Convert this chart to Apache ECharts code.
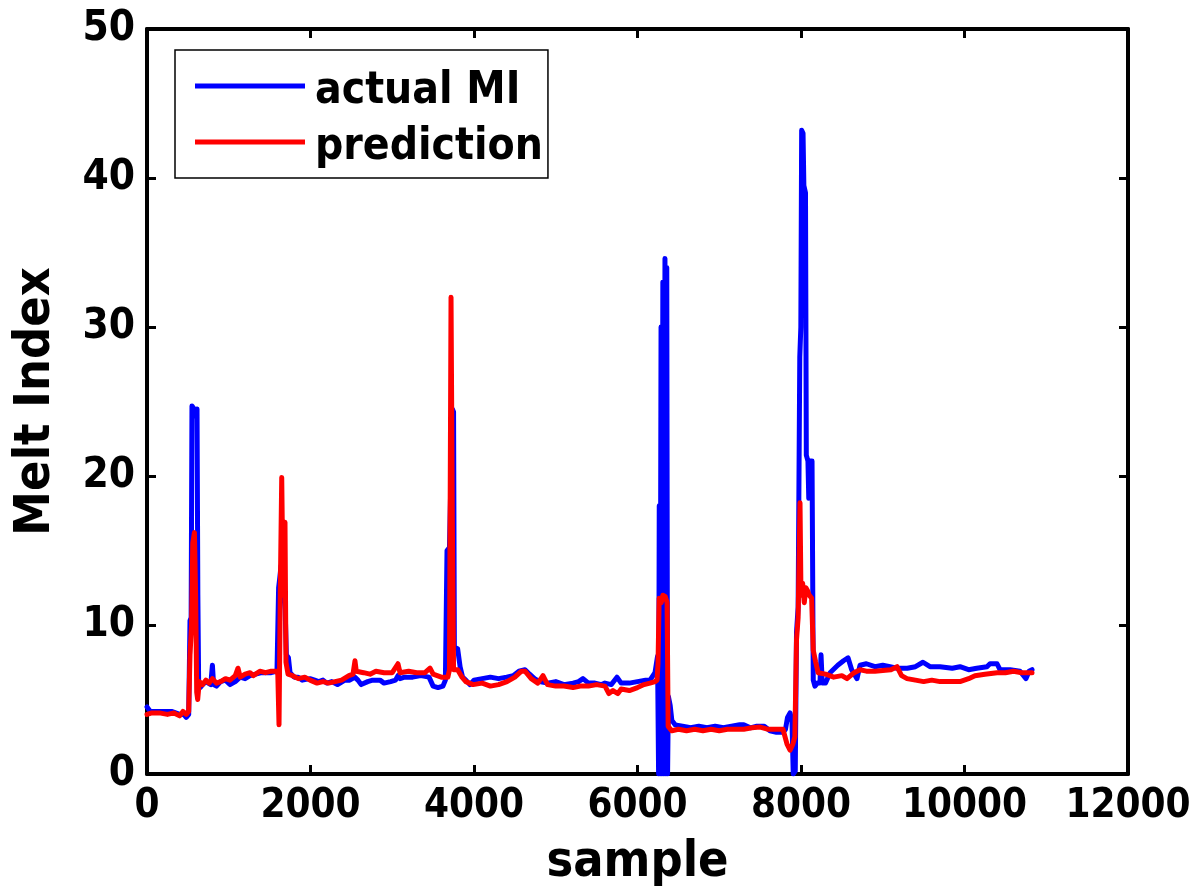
<!DOCTYPE html>
<html>
<head>
<meta charset="utf-8">
<script src="https://cdn.jsdelivr.net/npm/echarts@6/dist/echarts.min.js"></script>
<style>html,body{margin:0;padding:0;background:#fff}#c{width:1201px;height:895px}</style>
</head>
<body>
<div id="c"></div>
<script>
const seriesNames = ['actual MI', 'prediction'];
const xTicks = [0, 2000, 4000, 6000, 8000, 10000, 12000];
const yTicks = [0, 10, 20, 30, 40, 50];

const actualMI = [[0,4.5],[40,4.2],[150,4.2],[300,4.2],[400,4.0],[450,4.0],[480,3.8],[510,4.0],[526,10.3],[540,10.5],[550,24.7],[575,24.5],[590,24.3],[600,24.0],[612,24.5],[622,12],[632,6.0],[650,5.8],[680,6.0],[720,6.2],[780,6.0],[800,7.3],[815,6.0],[850,5.9],[900,6.2],[960,6.3],[1015,6.0],[1080,6.2],[1140,6.5],[1200,6.4],[1260,6.6],[1330,6.7],[1400,6.8],[1460,6.8],[1520,6.8],[1590,6.9],[1610,12.5],[1625,13.2],[1640,14],[1660,13],[1690,11],[1705,8.0],[1730,7.8],[1750,6.8],[1800,6.5],[1850,6.5],[1900,6.3],[1994,6.4],[2050,6.3],[2100,6.2],[2153,6.3],[2200,6.1],[2260,6.2],[2330,6.0],[2361,6.1],[2420,6.3],[2480,6.3],[2544,6.5],[2580,6.3],[2620,6.0],[2700,6.2],[2760,6.3],[2850,6.3],[2900,6.1],[2980,6.2],[3040,6.3],[3070,6.6],[3095,6.4],[3150,6.5],[3250,6.5],[3350,6.6],[3450,6.5],[3500,5.9],[3560,5.8],[3620,5.9],[3650,6.3],[3670,15],[3700,15.2],[3735,24.5],[3750,24.3],[3760,8.5],[3800,8.4],[3830,7.2],[3860,6.5],[3900,6.3],[3950,6.0],[4000,6.3],[4100,6.4],[4200,6.5],[4300,6.4],[4400,6.5],[4480,6.6],[4550,6.9],[4624,7.0],[4680,6.7],[4740,6.4],[4800,6.2],[4900,6.1],[5000,6.2],[5100,6.0],[5211,6.1],[5280,6.2],[5333,6.4],[5400,6.1],[5480,6.1],[5560,6.0],[5602,6.1],[5680,6.0],[5749,6.5],[5800,6.1],[5900,6.1],[6000,6.2],[6100,6.3],[6153,6.3],[6214,6.8],[6245,7.9],[6258,0],[6266,18],[6276,0],[6288,30],[6298,0],[6310,33],[6322,0],[6336,34.6],[6348,0],[6358,34],[6368,0],[6378,5.2],[6400,4.6],[6420,3.6],[6460,3.3],[6550,3.2],[6650,3.1],[6750,3.2],[6850,3.1],[6950,3.2],[7050,3.1],[7150,3.2],[7250,3.3],[7300,3.3],[7380,3.1],[7450,3.2],[7550,3.2],[7620,2.9],[7700,2.8],[7780,2.8],[7810,3.0],[7835,3.8],[7866,4.1],[7890,3.5],[7905,0],[7930,0.2],[7945,9.5],[7965,11.2],[7985,28],[7998,30],[8008,43.2],[8025,43],[8035,39.5],[8055,39],[8065,21.4],[8085,21],[8095,18.5],[8110,21],[8135,21],[8150,6.3],[8170,5.9],[8200,6.1],[8232,6.1],[8245,8.0],[8260,6.1],[8300,6.1],[8355,6.8],[8450,7.3],[8520,7.6],[8575,7.8],[8620,7.0],[8685,6.4],[8722,7.3],[8800,7.4],[8905,7.2],[9000,7.3],[9089,7.2],[9174,7.1],[9300,7.1],[9400,7.2],[9492,7.5],[9578,7.2],[9700,7.2],[9850,7.1],[9945,7.2],[10050,7.0],[10150,7.1],[10275,7.2],[10312,7.4],[10398,7.4],[10434,7.0],[10557,7.0],[10679,6.9],[10752,6.4],[10790,6.9],[10826,7.0]];

const prediction = [[0,4.0],[60,4.1],[150,4.1],[250,4.0],[330,4.1],[400,3.9],[440,4.2],[480,4.0],[510,4.2],[526,8.0],[545,10],[560,15.5],[580,16.2],[595,12],[608,5.5],[620,5.0],[640,6.2],[680,6.0],[720,6.3],[760,6.1],[800,6.4],[850,6.1],[900,6.2],[960,6.4],[1015,6.3],[1080,6.6],[1113,7.1],[1140,6.5],[1200,6.7],[1260,6.8],[1300,6.6],[1380,6.9],[1450,6.8],[1520,6.9],[1580,6.9],[1600,6.7],[1615,3.3],[1630,12],[1648,19.9],[1665,12],[1688,16.9],[1700,7.5],[1725,6.7],[1780,6.6],[1850,6.4],[1930,6.5],[1994,6.3],[2080,6.1],[2153,6.2],[2220,6.1],[2300,6.2],[2380,6.3],[2470,6.6],[2520,6.7],[2544,7.6],[2560,6.9],[2650,6.8],[2728,6.7],[2800,6.9],[2900,6.8],[3000,6.8],[3070,7.4],[3095,6.8],[3200,6.9],[3300,6.8],[3400,6.8],[3462,7.1],[3500,6.7],[3600,6.5],[3680,6.5],[3700,7.0],[3719,32],[3735,17],[3750,7.0],[3800,7.0],[3853,6.5],[3900,6.2],[3988,6.0],[4100,6.1],[4200,5.9],[4300,6.0],[4404,6.2],[4500,6.5],[4580,6.9],[4624,6.9],[4700,6.4],[4780,6.1],[4844,6.6],[4900,6.0],[5000,5.9],[5100,5.9],[5211,5.8],[5300,5.9],[5400,5.9],[5500,6.0],[5602,5.9],[5650,5.4],[5700,5.6],[5760,5.4],[5800,5.7],[5900,5.6],[6000,5.8],[6080,6.0],[6153,6.1],[6214,6.2],[6239,6.3],[6251,7.4],[6265,11.8],[6290,11.5],[6310,12],[6340,11.9],[6362,11.5],[6375,3.2],[6420,2.9],[6500,3.0],[6600,2.9],[6700,3.0],[6800,2.9],[6900,3.0],[7000,2.9],[7100,3.0],[7200,3.0],[7300,3.0],[7400,3.1],[7500,3.15],[7600,3.0],[7700,3.0],[7780,3.0],[7804,3.0],[7829,2.0],[7866,1.6],[7900,2.0],[7925,2.5],[7945,9],[7965,10.5],[7988,18.2],[8000,12],[8020,12.8],[8040,11.5],[8060,12.5],[8080,12.3],[8100,12],[8130,11.8],[8150,8.3],[8180,7.5],[8210,6.8],[8300,6.7],[8400,6.5],[8500,6.6],[8563,6.4],[8650,6.8],[8722,7.0],[8800,6.9],[8905,6.9],[9000,6.95],[9100,7.0],[9174,7.2],[9230,6.6],[9297,6.4],[9400,6.3],[9500,6.2],[9600,6.3],[9700,6.2],[9800,6.2],[9945,6.2],[10050,6.4],[10128,6.6],[10250,6.7],[10398,6.8],[10500,6.8],[10600,6.9],[10700,6.8],[10826,6.8]];

const FONT = '"DejaVu Sans Condensed", "DejaVu Sans", sans-serif';
const chart = echarts.init(document.getElementById('c'), null, {renderer: 'canvas'});
const axisLine = {show: true, onZero: false, lineStyle: {color: '#000', width: 4}};
const tick = {show: true, inside: true, length: 9, lineStyle: {color: '#000', width: 3}};
const plain = v => String(v);

chart.setOption({
  animation: false,
  backgroundColor: '#fff',
  grid: {left: 147, right: 73, top: 29, bottom: 121},
  legend: {
    data: seriesNames,
    orient: 'vertical',
    left: 175, top: 50,
    padding: [8, 5, 8, 20],
    itemGap: 0,
    itemWidth: 110, itemHeight: 5,
    icon: 'rect',
    borderColor: '#000', borderWidth: 1.5,
    backgroundColor: '#fff',
    formatter: name => '{t|' + name + '}',
    textStyle: {
      color: '#000', fontFamily: FONT, fontWeight: 'bold', fontSize: 44,
      rich: {t: {color: '#000', fontFamily: FONT, fontWeight: 'bold', fontSize: 44, lineHeight: 40, padding: [12, 0, 0, 5]}}
    }
  },
  xAxis: [{
    type: 'value', min: xTicks[0], max: xTicks[xTicks.length - 1], interval: 2000,
    position: 'bottom',
    name: 'sample', nameLocation: 'middle', nameGap: 64,
    nameTextStyle: {color: '#000', fontFamily: FONT, fontWeight: 'bold', fontSize: 50},
    axisLine: axisLine, axisTick: tick,
    axisLabel: {margin: 13, formatter: plain, color: '#000', fontFamily: FONT, fontWeight: 'bold', fontSize: 40},
    splitLine: {show: false}
  }, {
    type: 'value', min: xTicks[0], max: xTicks[xTicks.length - 1], interval: 2000,
    position: 'top',
    axisLine: axisLine, axisTick: tick, axisLabel: {show: false}, splitLine: {show: false}
  }],
  yAxis: [{
    type: 'value', min: yTicks[0], max: yTicks[yTicks.length - 1], interval: 10,
    position: 'left',
    name: 'Melt Index', nameLocation: 'middle', nameGap: 86,
    nameTextStyle: {color: '#000', fontFamily: FONT, fontWeight: 'bold', fontSize: 50},
    axisLine: axisLine, axisTick: tick,
    axisLabel: {margin: 12, formatter: plain, color: '#000', fontFamily: FONT, fontWeight: 'bold', fontSize: 42},
    splitLine: {show: false}
  }, {
    type: 'value', min: yTicks[0], max: yTicks[yTicks.length - 1], interval: 10,
    position: 'right',
    axisLine: axisLine, axisTick: tick, axisLabel: {show: false}, splitLine: {show: false}
  }],
  series: [{
    name: seriesNames[0], type: 'line', data: actualMI,
    xAxisIndex: 0, yAxisIndex: 0,
    showSymbol: false, symbol: 'none',
    itemStyle: {color: '#0000FF'},
    lineStyle: {color: '#0000FF', width: 5, join: 'round', cap: 'round'},
    z: 2
  }, {
    name: seriesNames[1], type: 'line', data: prediction,
    xAxisIndex: 0, yAxisIndex: 0,
    showSymbol: false, symbol: 'none',
    itemStyle: {color: '#FF0000'},
    lineStyle: {color: '#FF0000', width: 5, join: 'round', cap: 'round'},
    z: 3
  }]
});
</script>
</body>
</html>
